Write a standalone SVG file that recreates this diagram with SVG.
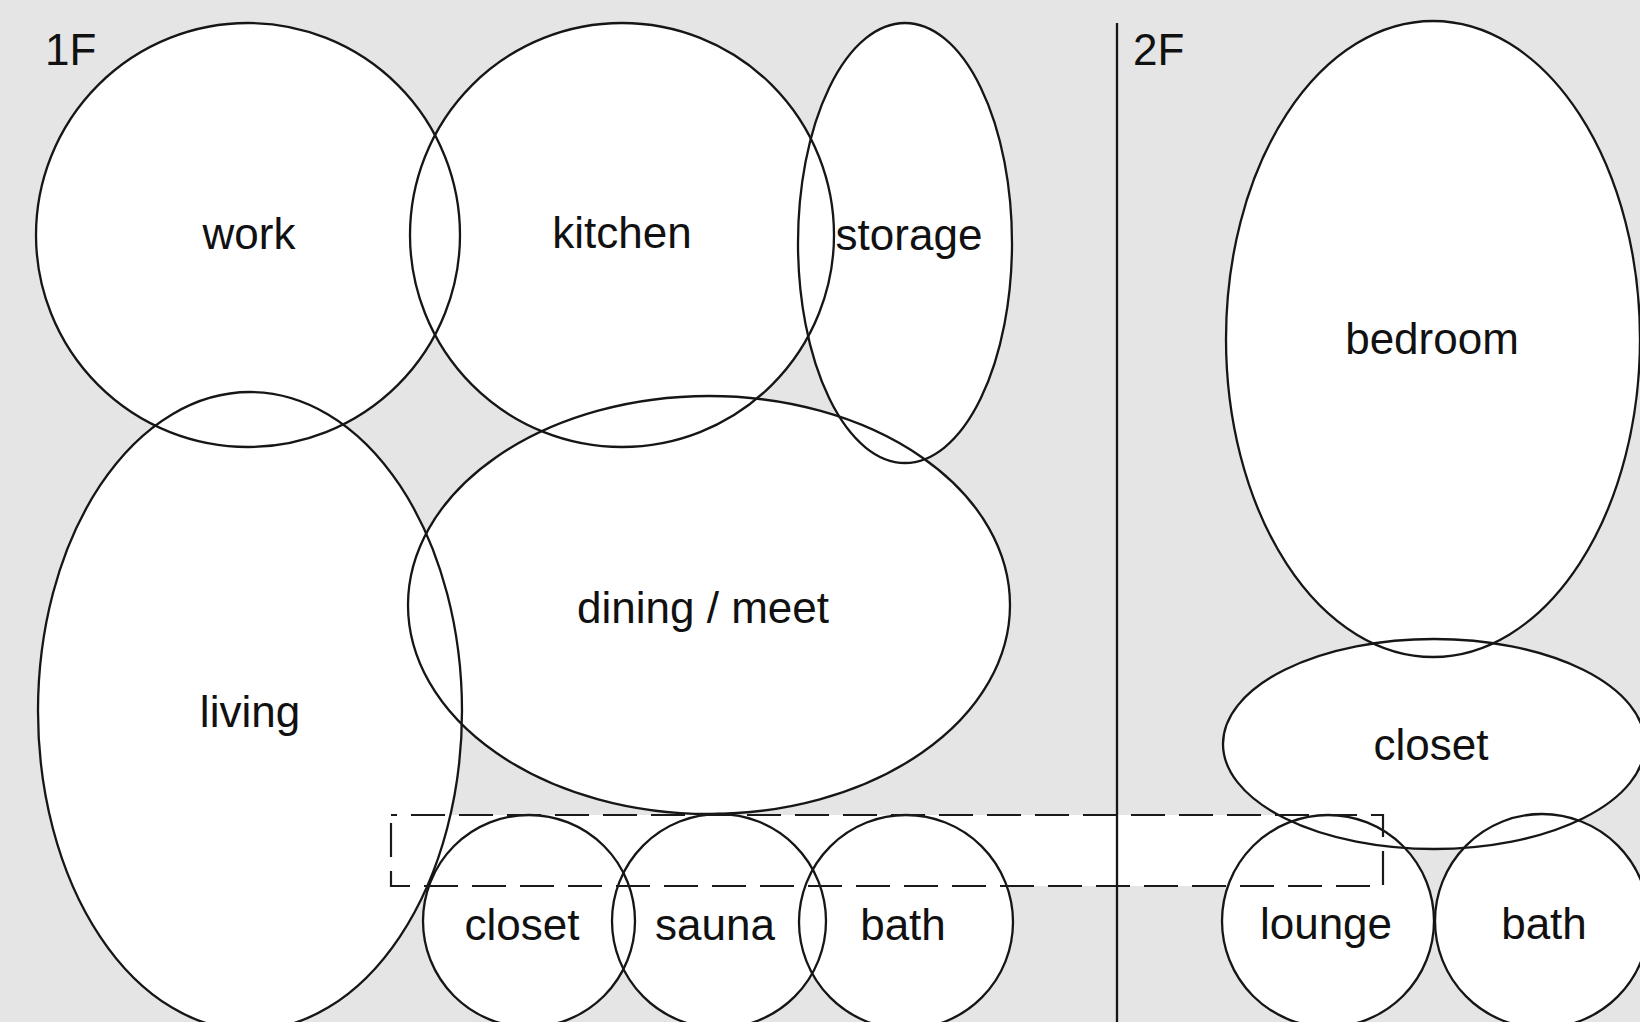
<svg xmlns="http://www.w3.org/2000/svg" xmlns:xlink="http://www.w3.org/1999/xlink" width="1640" height="1022" viewBox="0 0 1640 1022">
<style>
.fill{fill:#ffffff;stroke:none}
.room{fill:none;stroke:#161616;stroke-width:2.3}
.lbl{font-family:"Liberation Sans",Arial,Helvetica,sans-serif;font-size:44px;fill:#111111;text-anchor:middle}
.floor{font-family:"Liberation Sans",Arial,Helvetica,sans-serif;font-size:44px;fill:#111111}
.dash{fill:none;stroke:#1a1a1a;stroke-width:2.2;stroke-dasharray:34 14}
</style>
<defs>
<ellipse id="s-work" cx="248" cy="235" rx="212" ry="212"/>
<ellipse id="s-kitchen" cx="622" cy="235" rx="212" ry="212"/>
<ellipse id="s-storage" cx="905" cy="243" rx="107" ry="220"/>
<ellipse id="s-living" cx="250" cy="711" rx="212" ry="319"/>
<ellipse id="s-dining" cx="709" cy="605" rx="301" ry="209"/>
<ellipse id="s-closet1" cx="529" cy="921" rx="106" ry="106"/>
<ellipse id="s-sauna" cx="719" cy="921" rx="107" ry="107"/>
<ellipse id="s-bath1" cx="906" cy="922" rx="107" ry="107"/>
<ellipse id="s-bedroom" cx="1433" cy="339" rx="207" ry="318"/>
<ellipse id="s-closet2" cx="1434" cy="744" rx="211" ry="105"/>
<ellipse id="s-lounge" cx="1328" cy="921" rx="106" ry="106"/>
<ellipse id="s-bath2" cx="1542" cy="921" rx="107" ry="107"/>
</defs>
<rect x="0" y="0" width="1640" height="1022" fill="#e5e5e5"/>
<g id="room-fills">
<rect x="391" y="815" width="992" height="71" class="fill"/>
<use xlink:href="#s-work" class="fill"/>
<use xlink:href="#s-kitchen" class="fill"/>
<use xlink:href="#s-storage" class="fill"/>
<use xlink:href="#s-living" class="fill"/>
<use xlink:href="#s-dining" class="fill"/>
<use xlink:href="#s-closet1" class="fill"/>
<use xlink:href="#s-sauna" class="fill"/>
<use xlink:href="#s-bath1" class="fill"/>
<use xlink:href="#s-bedroom" class="fill"/>
<use xlink:href="#s-closet2" class="fill"/>
<use xlink:href="#s-lounge" class="fill"/>
<use xlink:href="#s-bath2" class="fill"/>
</g>
<line id="floor-divider" x1="1117" y1="23" x2="1117" y2="1022" stroke="#161616" stroke-width="2.3"/>
<g id="connectors"></g>
<g id="work"><use xlink:href="#s-work" class="room"/><text class="lbl" x="249" y="249">work</text></g>
<g id="kitchen"><use xlink:href="#s-kitchen" class="room"/><text class="lbl" x="622" y="248">kitchen</text></g>
<g id="storage"><use xlink:href="#s-storage" class="room"/><text class="lbl" x="909" y="250">storage</text></g>
<g id="living"><use xlink:href="#s-living" class="room"/><text class="lbl" x="250" y="727">living</text></g>
<g id="dining"><use xlink:href="#s-dining" class="room"/><text class="lbl" x="703" y="623">dining / meet</text></g>
<g id="closet-1f"><use xlink:href="#s-closet1" class="room"/><text class="lbl" x="522" y="940">closet</text></g>
<g id="sauna"><use xlink:href="#s-sauna" class="room"/><text class="lbl" x="715" y="940">sauna</text></g>
<g id="bath-1f"><use xlink:href="#s-bath1" class="room"/><text class="lbl" x="903" y="940">bath</text></g>
<g id="bedroom"><use xlink:href="#s-bedroom" class="room"/><text class="lbl" x="1432" y="354">bedroom</text></g>
<g id="closet-2f"><use xlink:href="#s-closet2" class="room"/><text class="lbl" x="1431" y="760">closet</text></g>
<g id="lounge"><use xlink:href="#s-lounge" class="room"/><text class="lbl" x="1326" y="939">lounge</text></g>
<g id="bath-2f"><use xlink:href="#s-bath2" class="room"/><text class="lbl" x="1544" y="939">bath</text></g>
<g id="stair-link"><path d="M391 815 H1383 V886 H391 Z" class="dash" stroke-dashoffset="-20"/></g>
<g id="floor-labels">
<text class="floor" x="45" y="65">1F</text>
<text class="floor" x="1133" y="65">2F</text>
</g>
</svg>
